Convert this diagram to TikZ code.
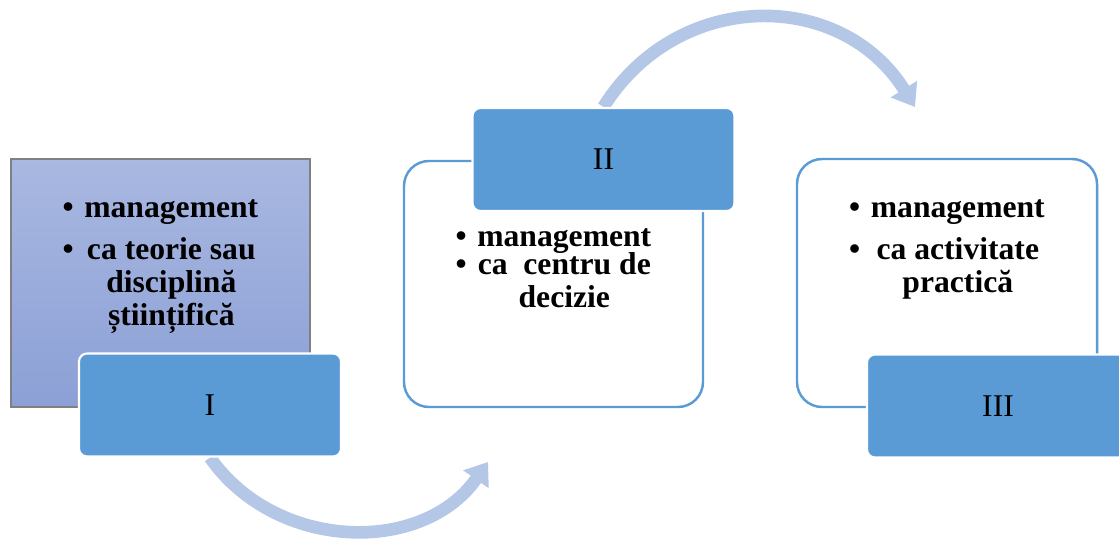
\documentclass[tikz,border=0pt]{standalone}
\usepackage{fontspec}
\setmainfont{Liberation Serif}
\usetikzlibrary{arrows.meta,backgrounds}

\definecolor{numblue}{RGB}{91,155,213}
\definecolor{arrowblue}{RGB}{180,199,231}
\definecolor{gradtop}{RGB}{169,184,225}
\definecolor{gradbot}{RGB}{140,160,214}

\tikzset{
  backbox/.style={draw=numblue, line width=1.4pt, rounded corners=0.5cm, minimum width=5.98cm, minimum height=4.92cm},
  numbox/.style={draw=white, line width=1.2pt, fill=numblue, rounded corners=0.16cm, minimum width=5.24cm, minimum height=2.06cm, font=\fontsize{18}{20}\selectfont},
  bullets/.style={anchor=base, inner sep=0pt, font=\fontsize{18}{18.8}\selectfont\bfseries},
  cyclearrow/.style={line width=7.2pt, draw=arrowblue, -{Triangle[width=17pt,length=12pt]}},
}

\begin{document}
\begin{tikzpicture}
\useasboundingbox (0,0) rectangle (22.38,10.82);

% I
\node[draw=gray, line width=0.6pt, top color=gradtop, bottom color=gradbot, minimum width=5.98cm, minimum height=4.96cm] at (3.21,5.16) (backI) {};
\node[bullets] at (3.21,6.46) (txtI) {\begin{tabular}[t]{@{}c@{\hspace{6pt}}c@{}}
\textbullet & management\\[5pt]
\textbullet & ca teorie sau\\
 & disciplină\\
 & științifică
\end{tabular}};
\node[numbox] at (4.20,2.72) (numI) {I};

% II
\node[backbox] at (11.07,5.14) (backII) {};
\node[bullets] at (11.07,5.89) (txtII) {\begin{tabular}[t]{@{}c@{\hspace{6pt}}c@{}}
\textbullet & management\\[-3pt]
\textbullet & ca~ centru de\\
 & decizie
\end{tabular}};
\node[numbox] at (12.07,7.63) (numII) {II};

% III
\node[backbox, minimum width=6cm, minimum height=4.96cm] at (18.94,5.16) (backIII) {};
\node[bullets] at (18.94,6.46) (txtIII) {\begin{tabular}[t]{@{}c@{\hspace{6pt}}c@{}}
\textbullet & management\\[5pt]
\textbullet & ca activitate\\
 & practică
\end{tabular}};
\node[numbox] at (19.96,2.70) (numIII) {III};

% arrows between the panels
\coordinate (tipB) at (9.76,1.58);
\coordinate (tipT) at (18.30,8.68);
\begin{scope}[on background layer]
\draw[cyclearrow] (numI.south) to[out=-55,in=-125,looseness=1.05] (tipB);
\draw[cyclearrow] (numII.north) to[out=58,in=122,looseness=1.15] (tipT);
\end{scope}
\end{tikzpicture}
\end{document}
